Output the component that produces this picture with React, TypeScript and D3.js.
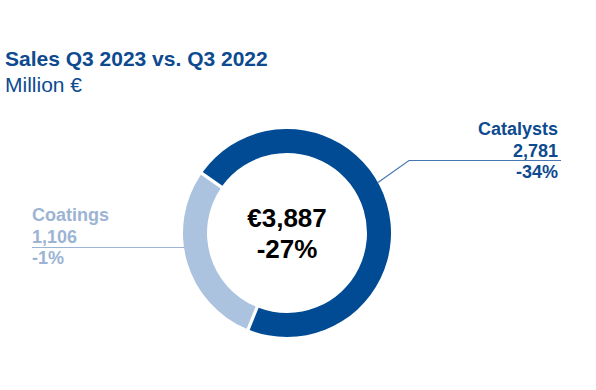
import React, { useRef, useEffect } from "react";
import * as d3 from "d3";

// data
const categories = ["Catalysts", "Coatings"];
const sales = [2781, 1106];
const changes = ["-34%", "-1%"];
const totalLabel = "€3,887";
const totalChange = "-27%";
const title = "Sales Q3 2023 vs. Q3 2022";
const subtitle = "Million €";

const colors = ["#004b93", "#abc3de"];
const textColors = ["#0d4a8f", "#9cb4d3"];
const lineColors = ["#4677b2", "#9cb4d3"];

const App = () => {
  const ref = useRef<SVGSVGElement>(null);

  useEffect(() => {
    const svg = d3.select(ref.current);
    svg.selectAll("*").remove();

    const width = 596,
      height = 390;
    const cx = 287,
      cy = 233,
      outerR = 104,
      innerR = 80;
    const font = "'Liberation Sans', Arial, sans-serif";

    // titles
    svg
      .append("text")
      .attr("x", 5)
      .attr("y", 66)
      .attr("font-family", font)
      .attr("font-size", 21)
      .attr("font-weight", "bold")
      .attr("fill", "#0d4a8f")
      .text(title);
    svg
      .append("text")
      .attr("x", 5)
      .attr("y", 92)
      .attr("font-family", font)
      .attr("font-size", 21)
      .attr("fill", "#0d4a8f")
      .text(subtitle);

    const start = (-55 * Math.PI) / 180;
    const pie = d3
      .pie<number>()
      .sort(null)
      .startAngle(start)
      .endAngle(start + 2 * Math.PI)
      .padAngle(0.025);
    const arcs = pie(sales);

    const arc = d3
      .arc<d3.PieArcDatum<number>>()
      .innerRadius(innerR)
      .outerRadius(outerR);

    const g = svg.append("g").attr("transform", `translate(${cx},${cy})`);
    g.selectAll("path.slice")
      .data(arcs)
      .join("path")
      .attr("class", "slice")
      .attr("fill", (d, i) => colors[i])
      .attr("d", arc);

    // centre labels
    g.append("text")
      .attr("text-anchor", "middle")
      .attr("y", -6)
      .attr("font-family", font)
      .attr("font-size", 26)
      .attr("font-weight", "bold")
      .attr("fill", "#000")
      .text(totalLabel);
    g.append("text")
      .attr("text-anchor", "middle")
      .attr("y", 25)
      .attr("font-family", font)
      .attr("font-size", 26)
      .attr("font-weight", "bold")
      .attr("fill", "#000")
      .text(totalChange);

    // leader lines: anchor angle on the ring (deg), elbow and end
    const leaders = [
      { angle: 61, elbow: [409, 160.5], end: [561, 160.5], anchor: "end", tx: 558, ty: 135 },
      { angle: 262, elbow: [182, 247.5], end: [32, 247.5], anchor: "start", tx: 32, ty: 221 },
    ];

    leaders.forEach((l, i) => {
      const a = (l.angle * Math.PI) / 180;
      const p0: [number, number] = [cx + outerR * Math.sin(a), cy - outerR * Math.cos(a)];
      const pts: [number, number][] = [p0, l.elbow as [number, number], l.end as [number, number]];
      svg
        .append("path")
        .attr("d", d3.line()(pts))
        .attr("fill", "none")
        .attr("stroke", lineColors[i])
        .attr("stroke-width", 1.2);

      const lines = [categories[i], d3.format(",")(sales[i]), changes[i]];
      svg
        .append("g")
        .selectAll("text")
        .data(lines)
        .join("text")
        .attr("x", l.tx)
        .attr("y", (d, j) => l.ty + j * 21.5)
        .attr("text-anchor", l.anchor)
        .attr("font-family", font)
        .attr("font-size", 18)
        .attr("font-weight", "bold")
        .attr("fill", textColors[i])
        .text((d) => d);
    });
  }, []);

  return (
    <svg
      ref={ref}
      width={596}
      height={390}
      style={{ position: "absolute", left: 0, top: 0, background: "#fff" }}
    />
  );
};

export default App;
